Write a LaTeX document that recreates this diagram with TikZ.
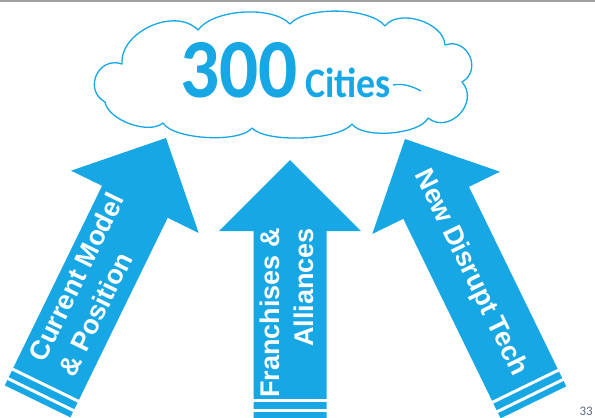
\documentclass[tikz,border=0pt]{standalone}
\usepackage{fontspec}
\usepackage{graphicx}
\setmainfont{Liberation Sans}
\newfontfamily\cloudfont{Carlito}
\definecolor{skyblue}{RGB}{22,167,228}
\definecolor{pagegray}{RGB}{95,105,130}

\tikzset{
  cloudline/.style={draw=skyblue, line width=1.3pt, fill=white, line join=round},
  arrowbody/.style={fill=skyblue, draw=none},
  stripegap/.style={fill=white, draw=none},
  arrowtext/.style={text=white, font=\fontsize{27}{33.5}\selectfont\bfseries, inner sep=0pt},
  cloudtext/.style={text=skyblue, inner sep=0pt},
}

% upward block arrow, tip at the origin, with two stripes at the tail; #1 = length
\newcommand\stripedarrow[1]{%
  \fill[arrowbody] (0,0) -- (71,-71) -- (36.5,-71) -- (36.5,-#1)
    -- (-36.5,-#1) -- (-36.5,-71) -- (-71,-71) -- cycle;
  \fill[stripegap] (-37,-#1+19.5) rectangle (37,-#1+16.5);
  \fill[stripegap] (-37,-#1+9) rectangle (37,-#1+6);
}

\begin{document}
\begin{tikzpicture}[x=1pt,y=1pt]
  \useasboundingbox (0,0) rectangle (595,-418);
  \clip (0,0) rectangle (595,-418);
  \fill[white] (0,0) rectangle (595,-418);
  % rule along the top edge
  \fill[gray!75] (0,0) rectangle (595,-2);

  % cloud outline
  \draw[cloudline]
    (122,-64) to[bend left=70, looseness=1] (198,-30)
    to[bend left=50, looseness=.72] (290,-24)
    to[bend left=50, looseness=.65] (385,-26)
    to[bend left=70, looseness=.92] (445,-45)
    to[bend left=85, looseness=1.5] (462,-82)
    to[bend left=85, looseness=1.4] (428,-118)
    to[bend left=60, looseness=.62] (352,-124)
    to[bend left=50, looseness=.53] (252,-128)
    to[bend left=55, looseness=.56] (163,-123)
    to[bend left=60, looseness=.77] (105,-102)
    to[bend left=85, looseness=1.55] (122,-64) -- cycle;
  % inner fold line of the cloud
  \draw[draw=skyblue, line width=1.3pt]
    (393,-85) .. controls (402,-83) and (412,-86) .. (421,-91);

  \node[cloudtext, anchor=base east,
        font=\cloudfont\bfseries\fontsize{84}{84}\selectfont]
        (num) at (298,-97) {\scalebox{.92}[1]{300}};
  \node[cloudtext, anchor=base west,
        font=\cloudfont\bfseries\fontsize{42}{42}\selectfont]
        (cities) at (305,-97) {\scalebox{.9}[1]{Cities}};

  % left arrow
  \begin{scope}[shift={(166,-138)}, rotate=-26]
    \stripedarrow{293}
    \node[arrowtext, rotate=64, anchor=west, align=left]
      (current) at (-3,-256) {Current Model\\\& Position};
  \end{scope}

  % middle arrow
  \begin{scope}[shift={(290,-160)}]
    \stripedarrow{258}
    \node[arrowtext, rotate=90, anchor=east, align=right]
      (franchise) at (-3,-68) {Franchises \&\\Alliances};
  \end{scope}

  % right arrow
  \begin{scope}[shift={(405,-139)}, rotate=26]
    \stripedarrow{293}
    \node[arrowtext, rotate=-64, anchor=west]
      (disrupt) at (0,-36) {New Disrupt Tech};
  \end{scope}

  \node[anchor=base east, text=pagegray, inner sep=0pt,
        font=\cloudfont\fontsize{13}{13}\selectfont]
        (page) at (593,-415) {33};
\end{tikzpicture}
\end{document}
